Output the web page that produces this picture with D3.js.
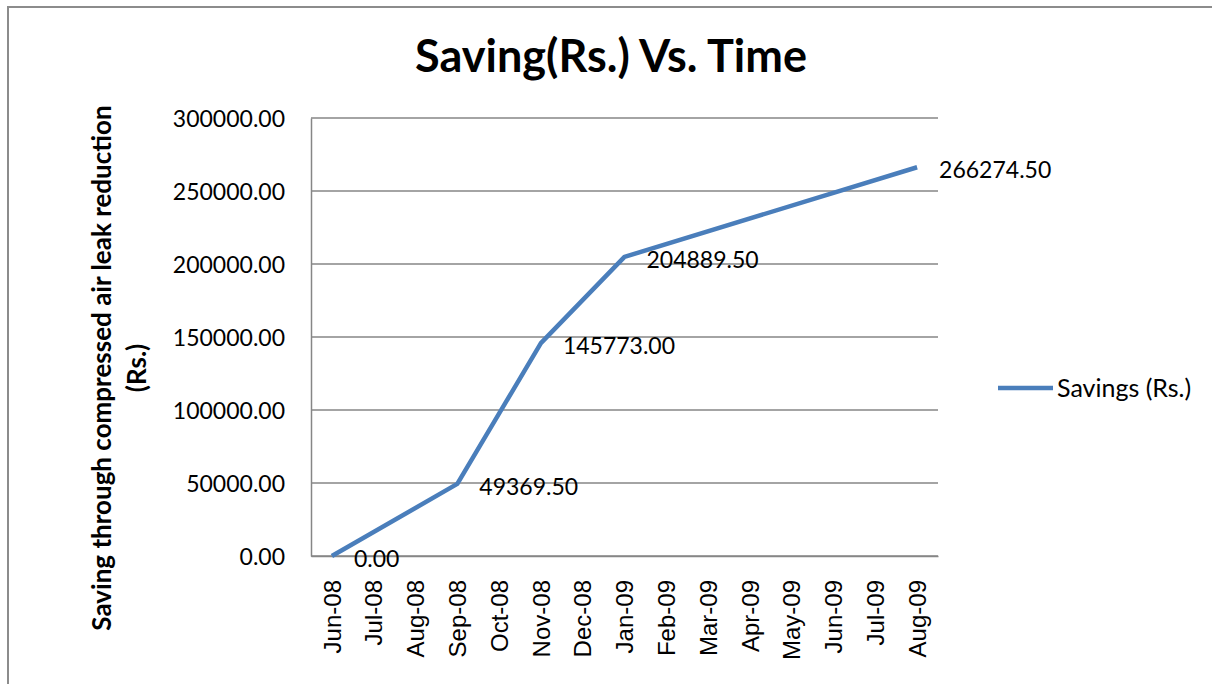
<!DOCTYPE html>
<meta charset="utf-8">
<style>
body { margin: 0; background: #fff; }
text { font-family: Lato, "Open Sans", sans-serif; fill: #000; }
.xlab { font-family: "Liberation Sans", Arial, sans-serif; }
</style>
<svg width="1212" height="684"></svg>
<script src="https://cdnjs.cloudflare.com/ajax/libs/d3/7.8.5/d3.min.js"></script>
<script>

var months = ["Jun-08","Jul-08","Aug-08","Sep-08","Oct-08","Nov-08","Dec-08","Jan-09","Feb-09","Mar-09","Apr-09","May-09","Jun-09","Jul-09","Aug-09"];
var pointMonths = ["Jun-08","Sep-08","Nov-08","Jan-09","Aug-09"];
var savings = [0, 49369.5, 145773, 204889.5, 266274.5];
var yTicks = [0, 50000, 100000, 150000, 200000, 250000, 300000];

var svg = d3.select("svg"),
    plotL = 311, plotR = 938, plotT = 118, plotB = 556;

var data = pointMonths.map(function(m, i) { return {m: m, v: savings[i]}; });

var x = d3.scaleBand().domain(months).range([plotL, plotR]);
var y = d3.scaleLinear().domain([0, 300000]).range([plotB, plotT]);
var fmt = d3.format(".2f");

// outer chart border
svg.append("rect").attr("x", 8).attr("y", 7).attr("width", 1230).attr("height", 700)
    .attr("fill", "none").attr("stroke", "#8c8c8c").attr("stroke-width", 2);

// gridlines
svg.append("g").selectAll("line").data(yTicks).enter().append("line")
    .attr("x1", plotL).attr("x2", plotR)
    .attr("y1", function(d) { return y(d); }).attr("y2", function(d) { return y(d); })
    .attr("stroke", "#868686").attr("stroke-width", 1.5);

// y axis
var yAxis = svg.append("g").attr("transform", "translate(" + plotL + ",0)")
    .call(d3.axisLeft(y).tickValues(yTicks).tickFormat(fmt).tickSize(0).tickPadding(26));
yAxis.select(".domain").attr("stroke", "#868686").attr("stroke-width", 1.5);
yAxis.selectAll("text").style("font-family", "Lato, sans-serif").style("font-size", "23px").attr("fill", "#000").attr("dy", "0.35em");

// x axis
var xAxis = svg.append("g").attr("transform", "translate(0," + plotB + ")")
    .call(d3.axisBottom(x).tickSize(0).tickPadding(0));
xAxis.select(".domain").attr("stroke", "#868686").attr("stroke-width", 1.5);
xAxis.selectAll("text").attr("class", "xlab").style("font-size", "24px").attr("fill", "#000")
    .attr("transform", "rotate(-90)").attr("text-anchor", "end")
    .attr("x", -24).attr("y", 0).attr("dy", "0.36em");

// line
var line = d3.line().x(function(d) { return x(d.m) + x.bandwidth() / 2; }).y(function(d) { return y(d.v); });
svg.append("path").datum(data).attr("d", line)
    .attr("fill", "none").attr("stroke", "#4a7ebb").attr("stroke-width", 4.5).attr("stroke-linejoin", "round");

// data labels
svg.append("g").selectAll("text").data(data).enter().append("text")
    .attr("x", function(d) { return x(d.m) + x.bandwidth() / 2 + 22; })
    .attr("y", function(d) { return y(d.v) + 3; })
    .attr("dy", "0.35em").style("font-size", "23px")
    .text(function(d) { return fmt(d.v); });

// title
svg.append("text").attr("x", 611).attr("y", 72).attr("text-anchor", "middle")
    .style("font-size", "45px").style("font-weight", "bold").text("Saving(Rs.) Vs. Time");

// y axis title
var yt = svg.append("text").attr("transform", "translate(111,368) rotate(-90)")
    .attr("text-anchor", "middle").style("font-size", "26px").style("font-weight", "bold");
yt.append("tspan").attr("x", 0).attr("y", 0).text("Saving through compressed air leak reduction");
yt.append("tspan").attr("x", 0).attr("y", 35).text("(Rs.)");

// legend
svg.append("line").attr("x1", 998).attr("x2", 1053).attr("y1", 388).attr("y2", 388)
    .attr("stroke", "#4a7ebb").attr("stroke-width", 4.5);
svg.append("text").attr("x", 1057).attr("y", 388).attr("dy", "0.35em")
    .style("font-size", "25px").text("Savings (Rs.)");

</script>
